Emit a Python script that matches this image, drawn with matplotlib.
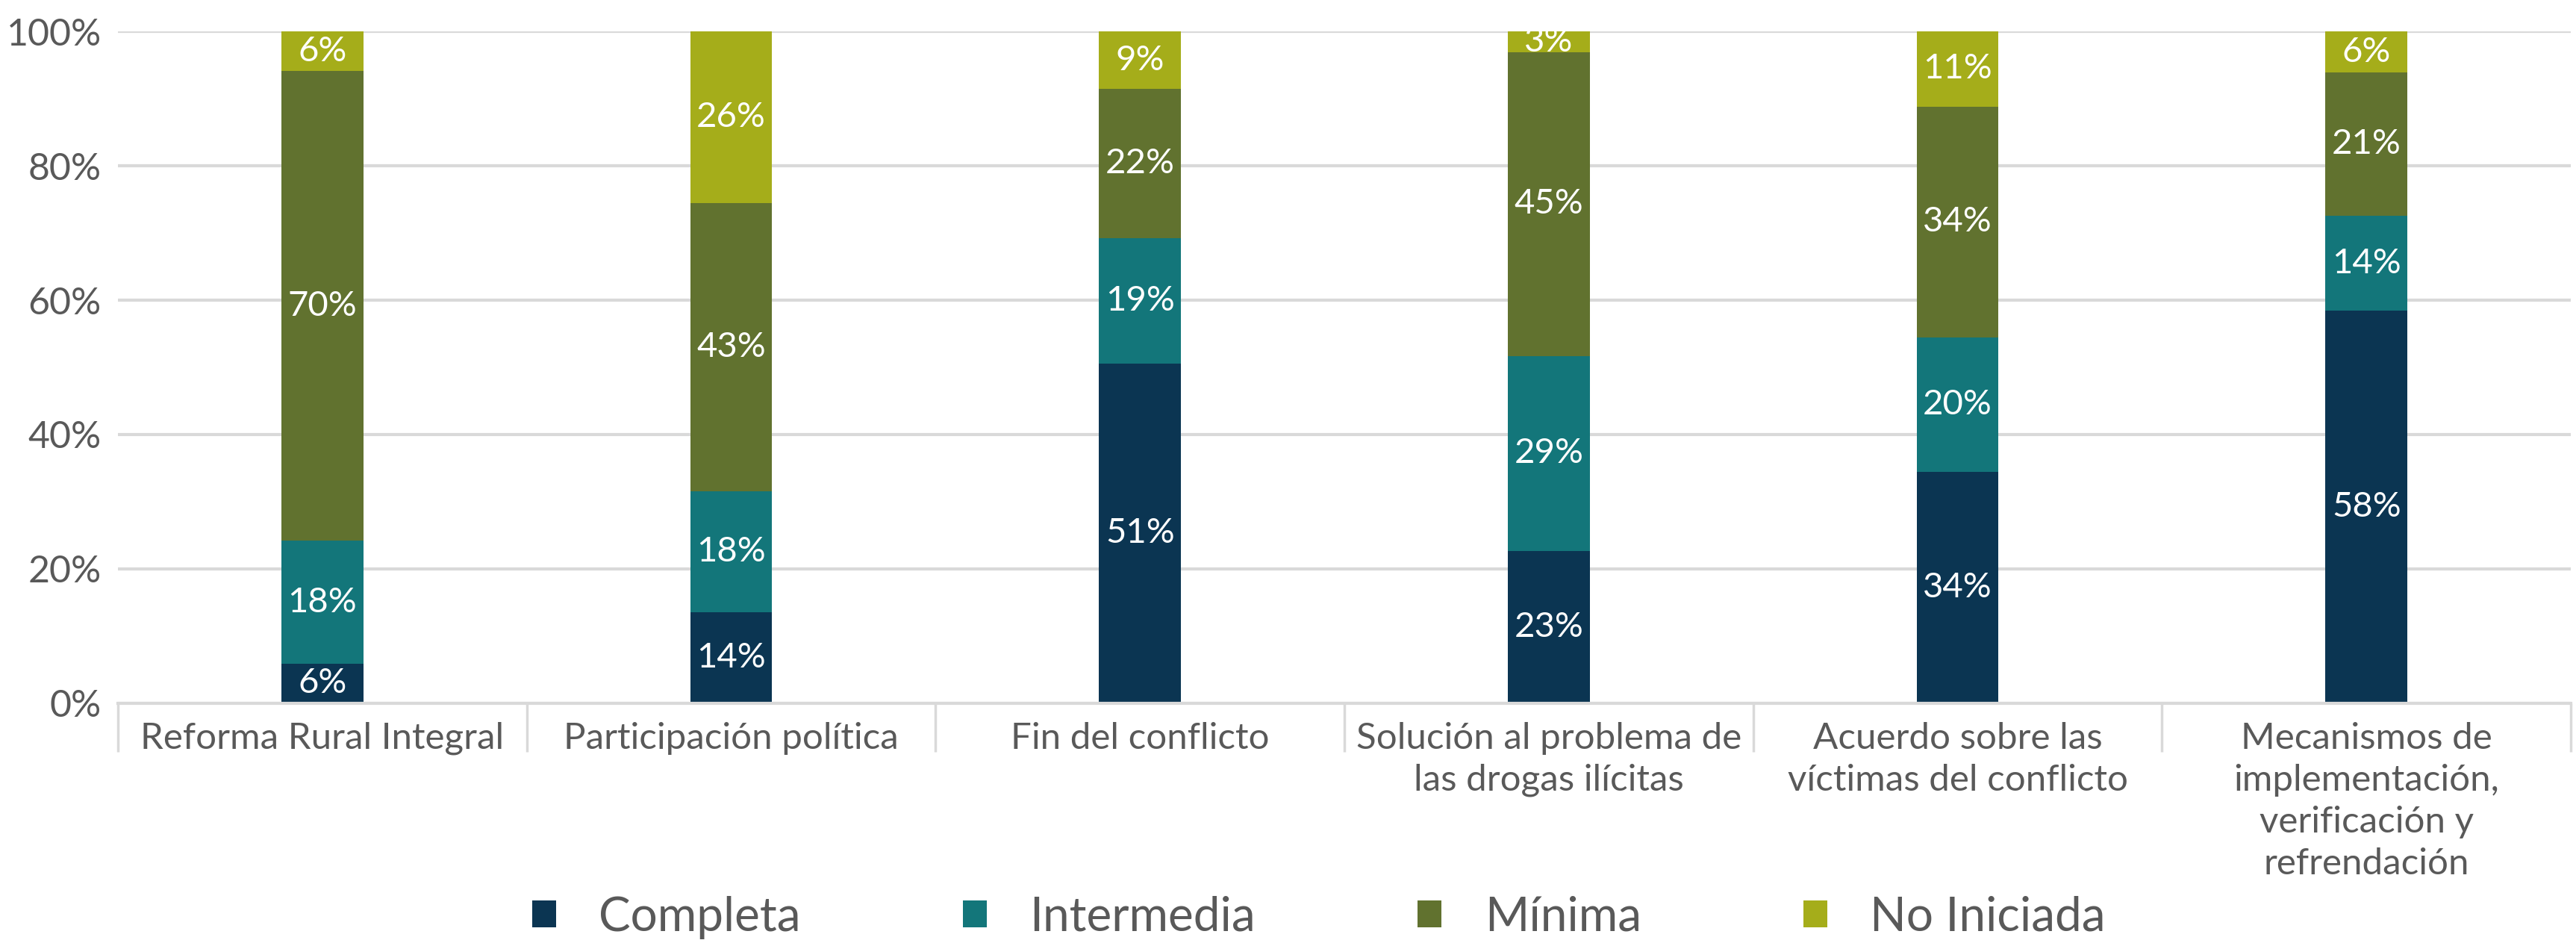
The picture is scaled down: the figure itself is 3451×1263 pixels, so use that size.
import matplotlib
matplotlib.use("Agg")
import matplotlib.pyplot as plt
import numpy as np
from matplotlib.patches import Patch

categories = [
    "Reforma Rural Integral",
    "Participación política",
    "Fin del conflicto",
    "Solución al problema de\nlas drogas ilícitas",
    "Acuerdo sobre las\nvíctimas del conflicto",
    "Mecanismos de\nimplementación,\nverificación y\nrefrendación",
]
series_names = ["Completa", "Intermedia", "Mínima", "No Iniciada"]
completa = [5.9, 13.6, 50.6, 22.7, 34.4, 58.4]
intermedia = [18.3, 18.0, 18.6, 29.0, 20.1, 14.2]
minima = [69.9, 42.8, 22.2, 45.2, 34.3, 21.3]
no_iniciada = [5.9, 25.6, 8.6, 3.1, 11.2, 6.1]
colors = ["#0B3552", "#13767A", "#61722F", "#A5AD1A"]
yticks = [0, 20, 40, 60, 80, 100]
ytick_labels = ["0%", "20%", "40%", "60%", "80%", "100%"]

plt.rcParams["font.family"] = ["Lato", "DejaVu Sans"]
plt.rcParams["font.weight"] = "normal"
TXT = "#595959"
GRID = "#D9D9D9"

fig = plt.figure(figsize=(34.51, 12.63), dpi=100)
ax = fig.add_axes([0.0458, 0.2542, 0.9522, 0.7125])

x = np.arange(len(categories))
bottom = np.zeros(len(categories))
handles = []
for name, vals, col in zip(series_names, [completa, intermedia, minima, no_iniciada], colors):
    vals = np.array(vals)
    bars = ax.bar(x, vals, width=0.2, bottom=bottom, color=col, zorder=3, label=name)
    ax.bar_label(bars, labels=[f"{int(round(v))}%" for v in vals], label_type="center",
                 color="white", fontsize=34, fontweight="normal", zorder=4)
    bottom += vals
    handles.append(Patch(facecolor=col, edgecolor="none"))

ax.set_xlim(-0.5, len(categories) - 0.5)
ax.set_ylim(0, 100)
ax.set_yticks(yticks)
ax.set_yticklabels(ytick_labels)
ax.tick_params(axis="y", length=0, labelsize=36, labelcolor=TXT, pad=16)
ax.yaxis.grid(True, color=GRID, linewidth=3, zorder=0)
for s in ["left", "right", "top"]:
    ax.spines[s].set_visible(False)
ax.spines["bottom"].set_color(GRID)
ax.spines["bottom"].set_linewidth(3)
ax.spines["bottom"].set_zorder(5)

ax.set_xticks(x)
ax.set_xticklabels(categories, fontsize=35.5, color=TXT, fontweight="normal", linespacing=1.33)
ax.tick_params(axis="x", which="major", length=0, pad=18)
ax.set_xticks(np.arange(-0.5, len(categories), 1.0), minor=True)
ax.tick_params(axis="x", which="minor", length=47, width=2.5, color=GRID)
for lab in ax.get_xticklabels():
    lab.set_verticalalignment("top")

fig.legend(handles, series_names, loc="center", bbox_to_anchor=(0.512, 0.027), ncol=4,
           frameon=False, labelcolor=TXT, handlelength=0.5, handleheight=0.5,
           handletextpad=0.9, columnspacing=3.4,
           prop={"family": ["Lato", "DejaVu Sans"], "weight": "normal", "size": 46})

fig.savefig("out.png", dpi=100)
